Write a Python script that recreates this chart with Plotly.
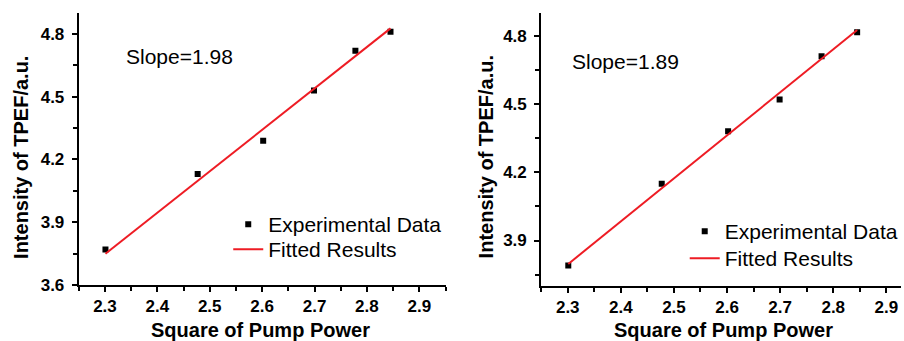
import numpy as np
import plotly.graph_objects as go

# log10 of pump power squared values used in both measurements
power_sq = [2.301, 2.477, 2.602, 2.699, 2.778, 2.845]

# TPEF intensity readings for the two samples
tpef_a = [3.77, 4.13, 4.29, 4.53, 4.72, 4.81]
tpef_b = [3.79, 4.15, 4.38, 4.52, 4.71, 4.815]

# slopes reported for the linear fits
slope_a = 1.98
slope_b = 1.89

x_ticks = [2.3, 2.4, 2.5, 2.6, 2.7, 2.8, 2.9]
y_ticks = [3.6, 3.9, 4.2, 4.5, 4.8]

FONT = "Arial, Liberation Sans, sans-serif"
RED = "#ee1c24"
W, H = 904, 341


def fit_line(x, y, slope):
    """Line of given slope through the centroid of the data."""
    x = np.asarray(x)
    y = np.asarray(y)
    b = y.mean() - slope * x.mean()
    xs = np.array([x.min(), x.max()])
    return xs, slope * xs + b


fig = go.Figure()

panels = [
    dict(vals=tpef_a, slope=slope_a, xa="x", ya="y", legs=("legend", "legend2")),
    dict(vals=tpef_b, slope=slope_b, xa="x2", ya="y2", legs=("legend3", "legend4")),
]
for p in panels:
    fx, fy = fit_line(power_sq, p["vals"], p["slope"])
    fig.add_trace(go.Scatter(
        x=power_sq, y=p["vals"], mode="markers", name="Experimental Data",
        marker=dict(symbol="square", size=6, color="black"),
        xaxis=p["xa"], yaxis=p["ya"], legend=p["legs"][0],
    ))
    fig.add_trace(go.Scatter(
        x=fx, y=fy, mode="lines", name="Fitted Results",
        line=dict(color=RED, width=2),
        xaxis=p["xa"], yaxis=p["ya"], legend=p["legs"][1],
    ))

axis_common = dict(
    showline=True, linecolor="black", linewidth=2,
    ticks="outside", ticklen=5, tickwidth=2, tickcolor="black",
    showgrid=False, zeroline=False, automargin=False,
    tickfont=dict(family=FONT, size=17, color="black", weight="bold"),
    minor=dict(ticks="outside", ticklen=4, tickwidth=2, tickcolor="black", showgrid=False),
)

xaxis_kw = dict(axis_common, tickmode="array", tickvals=x_ticks,
                ticktext=[f"{v:.1f}" for v in x_ticks],
                minor=dict(axis_common["minor"], dtick=0.05, tick0=2.25))
yaxis_kw = dict(axis_common, tickmode="array", tickvals=y_ticks,
                ticktext=[f"{v:.1f}" for v in y_ticks], ticklabelstandoff=4,
                minor=dict(axis_common["minor"], dtick=0.15, tick0=3.6))


def legend_at(px, py):
    # single-entry legend box whose top-left corner sits at pixel (px, py)
    return dict(x=px / W, y=(H - py) / H, xanchor="left", yanchor="top",
                bgcolor="rgba(0,0,0,0)", borderwidth=0,
                font=dict(family=FONT, size=21, color="black"))


fig.update_layout(
    template="none",
    width=W, height=H,
    margin=dict(l=0, r=0, t=0, b=0),
    paper_bgcolor="white", plot_bgcolor="white",
    font=dict(family=FONT, color="black"),
    xaxis=dict(xaxis_kw, domain=[79 / W, 447 / W], range=[2.25, 2.95], anchor="y"),
    yaxis=dict(yaxis_kw, domain=[(H - 285) / H, (H - 13) / H], range=[3.6, 4.9], anchor="x"),
    xaxis2=dict(xaxis_kw, domain=[543 / W, 1.0], range=[2.25, 2.9276], anchor="y2"),
    yaxis2=dict(yaxis_kw, domain=[(H - 286) / H, (H - 13) / H], range=[3.7, 4.9], anchor="x2"),
    legend=legend_at(229, 204),
    legend2=legend_at(229, 229),
    legend3=legend_at(687, 211),
    legend4=legend_at(687, 238),
    showlegend=True,
)

title_font = dict(family=FONT, size=20, color="black", weight="bold")
annots = [
    dict(text="Square of Pump Power", x=261 / W, y=(H - 330) / H),
    dict(text="Square of Pump Power", x=726 / W, y=(H - 330) / H),
    dict(text="Intensity of TPEF/a.u.", x=21 / W, y=(H - 157) / H, textangle=-90),
    dict(text="Intensity of TPEF/a.u.", x=488 / W, y=(H - 157) / H, textangle=-90),
]
for a in annots:
    fig.add_annotation(xref="paper", yref="paper", showarrow=False,
                       xanchor="center", yanchor="middle", font=title_font, **a)

slope_font = dict(family=FONT, size=21, color="black")
fig.add_annotation(xref="paper", yref="paper", showarrow=False,
                   x=124 / W, y=(H - 57) / H, xanchor="left", yanchor="middle",
                   text=f"Slope={slope_a:.2f}", font=slope_font)
fig.add_annotation(xref="paper", yref="paper", showarrow=False,
                   x=572 / W, y=(H - 62) / H, xanchor="left", yanchor="middle",
                   text=f"Slope={slope_b:.2f}", font=slope_font)

fig.write_html("out.html")
